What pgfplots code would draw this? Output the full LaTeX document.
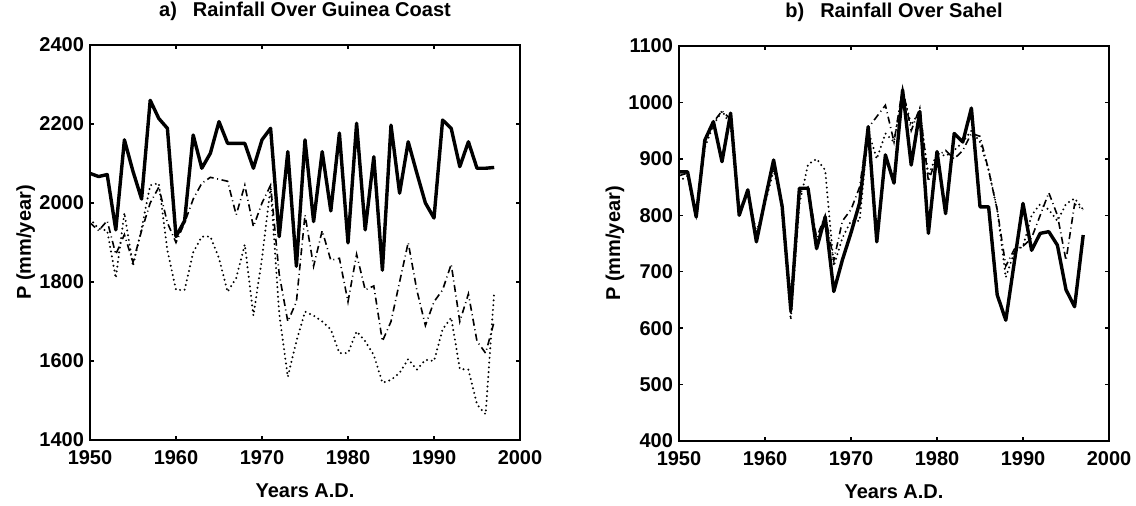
\documentclass[border=0pt]{standalone}
\usepackage{fontspec}
\setmainfont{Liberation Sans}
\usepackage{pgfplots}
\usepackage{pgfplotstable}
\pgfplotsset{compat=1.18}
\pgfplotstableread{
year sol dot dd
1950 2075 1960 1950
1951 2067 1935 1930
1952 2072 1930 1955
1953 1932 1810 1870
1954 2160 1975 1920
1955 2080 1840 1850
1956 2010 1935 1930
1957 2260 2045 2000
1958 2214 2050 2040
1959 2189 1880 1950
1960 1915 1780 1900
1961 1955 1780 1950
1962 2172 1875 2010
1963 2088 1915 2050
1964 2126 1915 2065
1965 2206 1860 2060
1966 2151 1775 2055
1967 2151 1810 1970
1968 2151 1895 2045
1969 2088 1715 1940
1970 2160 1860 2000
1971 2189 2040 2045
1972 1915 1720 1820
1973 2130 1560 1700
1974 1840 1650 1750
1975 2160 1725 1970
1976 1953 1715 1840
1977 2130 1700 1930
1978 1980 1680 1855
1979 2177 1620 1860
1980 1899 1620 1750
1981 2202 1675 1870
1982 1932 1650 1780
1983 2117 1615 1790
1984 1830 1545 1650
1985 2197 1552 1700
1986 2025 1570 1800
1987 2155 1605 1900
1988 2076 1578 1780
1989 2000 1603 1690
1990 1962 1600 1750
1991 2210 1680 1780
1992 2189 1710 1845
1993 2092 1580 1700
1994 2155 1578 1770
1995 2088 1490 1650
1996 2088 1465 1620
1997 2090 1775 1700
}\guinea
\pgfplotstableread{
year sol dot dd
1950 877 860 870
1951 877 870 875
1952 797 800 800
1953 933 920 930
1954 966 960 965
1955 895 985 985
1956 981 960 970
1957 800 810 810
1958 845 840 840
1959 753 770 760
1960 827 820 830
1961 898 880 890
1962 815 820 820
1963 632 615 625
1964 848 820 840
1965 848 890 850
1966 741 900 760
1967 797 880 800
1968 665 710 720
1969 721 760 790
1970 769 790 810
1971 822 790 850
1972 957 950 955
1973 753 900 975
1974 907 945 995
1975 857 930 930
1976 1022 1020 1025
1977 889 960 950
1978 984 985 990
1979 768 870 860
1980 913 910 905
1981 803 905 915
1982 945 915 900
1983 930 930 915
1984 990 950 945
1985 815 930 940
1986 815 880 880
1987 659 810 810
1988 614 690 710
1989 718 735 740
1990 821 745 745
1991 738 800 760
1992 768 820 800
1993 771 810 840
1994 747 790 800
1995 668 820 720
1996 638 830 820
1997 765 810 810
}\sahel
\pgfplotsset{
  rainax/.style={
    scale only axis, width=215pt, height=197.5pt, anchor=south west,
    xmin=1950, xmax=2000, xtick={1950,1960,1970,1980,1990,2000},
    tick align=inside, major tick length=2.2pt,
    axis line style={line width=0.8pt},
    every tick/.style={black, line width=0.7pt},
    /pgf/number format/assume math mode=true,
    /pgf/number format/1000 sep={},
    scaled ticks=false,
    xticklabel style={yshift=-1.5pt},
    yticklabel style={xshift=0.5pt},
    xlabel={Years A.D.}, ylabel={P (mm/year)},
    title style={at={(0.5,1)}, anchor=base, yshift=8.5pt},
    xlabel style={at={(0.5,0)}, anchor=base, yshift=-28.5pt},
    ylabel style={at={(-0.1372,0.5)}, anchor=base},
  },
  solidS/.style={black, line width=1.7pt, line join=round},
  dotS/.style={black, line width=1.1pt, line cap=round, dash pattern=on 0pt off 2.4pt},
  dashdotS/.style={black, line width=0.8pt, dash pattern=on 3.5pt off 1.8pt on 0.5pt off 1.8pt},
}
\begin{document}
\fontsize{10pt}{12pt}\selectfont\bfseries
\begin{tikzpicture}
\path[use as bounding box] (0,0) rectangle (568pt,252.5pt);
\begin{axis}[rainax, at={(45pt,32.5pt)}, ymin=1400, ymax=2400,
  ytick={1400,1600,1800,2000,2200,2400},
  title={a)\hspace{0.8em}Rainfall Over Guinea Coast}]
\addplot[dotS] table[x=year,y=dot]{\guinea};
\addplot[dashdotS] table[x=year,y=dd]{\guinea};
\addplot[solidS] table[x=year,y=sol]{\guinea};
\end{axis}
\begin{axis}[rainax, at={(339.5pt,32pt)}, ymin=400, ymax=1100,
  ytick={400,500,600,700,800,900,1000,1100},
  title={b)\hspace{0.8em}Rainfall Over Sahel}]
\addplot[dotS] table[x=year,y=dot]{\sahel};
\addplot[dashdotS] table[x=year,y=dd]{\sahel};
\addplot[solidS] table[x=year,y=sol]{\sahel};
\end{axis}
\end{tikzpicture}
\end{document}
